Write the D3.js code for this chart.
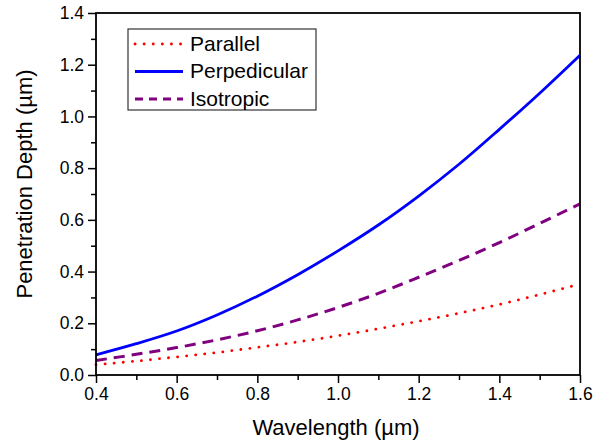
<!DOCTYPE html>
<html>
<head>
<meta charset="utf-8">
<script src="https://cdn.jsdelivr.net/npm/d3@7"></script>
<style>
  body { margin: 0; background: #fff; }
  text { font-family: "Liberation Sans", Arial, sans-serif; fill: #000; }
</style>
</head>
<body>
<div id="chart"></div>
<script>
// wavelength values (um)
const wavelength = [0.4, 0.5, 0.6, 0.7, 0.8, 0.9, 1.0, 1.1, 1.2, 1.3, 1.4, 1.5, 1.6];
// penetration depth (um)
const parallel = [0.040, 0.054, 0.070, 0.087, 0.107, 0.128, 0.152, 0.179, 0.208, 0.239, 0.273, 0.311, 0.352];
const perpendicular = [0.078, 0.121, 0.170, 0.232, 0.305, 0.388, 0.480, 0.580, 0.692, 0.815, 0.950, 1.090, 1.237];
const isotropic = [0.056, 0.080, 0.106, 0.136, 0.171, 0.213, 0.261, 0.316, 0.378, 0.443, 0.512, 0.586, 0.662];

const xTicks = [0.4, 0.6, 0.8, 1.0, 1.2, 1.4, 1.6];
const yTicks = [0.0, 0.2, 0.4, 0.6, 0.8, 1.0, 1.2, 1.4];
const seriesNames = ["Parallel", "Perpedicular", "Isotropic"];

const W = 611, H = 447;
const margin = { top: 13, right: 31, bottom: 72, left: 96 };
const width = W - margin.left - margin.right,
      height = H - margin.top - margin.bottom;

const svg = d3.select("#chart").append("svg")
    .attr("width", W)
    .attr("height", H);

const g = svg.append("g")
    .attr("transform", "translate(" + margin.left + "," + margin.top + ")");

const x = d3.scaleLinear().domain([0.4, 1.6]).range([0, width]);
const y = d3.scaleLinear().domain([0, 1.4]).range([height, 0]);

// minor ticks
const xMinor = d3.range(0.5, 1.6, 0.2);
const yMinor = d3.range(0.1, 1.4, 0.2);

g.append("g")
    .attr("transform", "translate(0," + height + ")")
    .call(d3.axisBottom(x).tickValues(xMinor).tickSize(5).tickFormat(""))
    .call(a => a.select(".domain").remove())
    .selectAll("line").attr("stroke", "#000").attr("stroke-width", 1.5);

g.append("g")
    .call(d3.axisLeft(y).tickValues(yMinor).tickSize(5).tickFormat(""))
    .call(a => a.select(".domain").remove())
    .selectAll("line").attr("stroke", "#000").attr("stroke-width", 1.5);

// major axes
const xAxis = g.append("g")
    .attr("transform", "translate(0," + height + ")")
    .call(d3.axisBottom(x).tickValues(xTicks).tickSize(8).tickPadding(5).tickFormat(d3.format(".1f")));
xAxis.select(".domain").remove();
xAxis.selectAll("line").attr("stroke", "#000").attr("stroke-width", 1.5);
xAxis.selectAll("text")
    .attr("font-size", "17.5px")
    .attr("font-family", "Liberation Sans, Arial, sans-serif")
    .attr("fill", "#000");

const yAxis = g.append("g")
    .call(d3.axisLeft(y).tickValues(yTicks).tickSize(8).tickPadding(4).tickFormat(d3.format(".1f")));
yAxis.select(".domain").remove();
yAxis.selectAll("line").attr("stroke", "#000").attr("stroke-width", 1.5);
yAxis.selectAll("text")
    .attr("font-size", "17.5px")
    .attr("font-family", "Liberation Sans, Arial, sans-serif")
    .attr("fill", "#000");

// lines
const series = [
    { name: seriesNames[0], values: parallel, color: "#ff0000", width: 2.8, dash: "0.1,9", cap: "round" },
    { name: seriesNames[1], values: perpendicular, color: "#0000ff", width: 2.8, dash: null, cap: "butt" },
    { name: seriesNames[2], values: isotropic, color: "#800080", width: 3, dash: "11,7", cap: "butt" }
];

const line = d3.line()
    .x(function(d) { return x(d[0]); })
    .y(function(d) { return y(d[1]); })
    .curve(d3.curveCatmullRom);

series.forEach(function(s) {
    g.append("path")
        .datum(wavelength.map(function(w, i) { return [w, s.values[i]]; }))
        .attr("fill", "none")
        .attr("stroke", s.color)
        .attr("stroke-width", s.width)
        .attr("stroke-dasharray", s.dash)
        .attr("stroke-linecap", s.cap)
        .attr("d", line);
});

// frame
g.append("rect")
    .attr("width", width)
    .attr("height", height)
    .attr("fill", "none")
    .attr("stroke", "#000")
    .attr("stroke-width", 1.8);

// legend
const legend = svg.append("g").attr("transform", "translate(128,29)");
legend.append("rect")
    .attr("width", 188)
    .attr("height", 81)
    .attr("fill", "#fff")
    .attr("stroke", "#333")
    .attr("stroke-width", 1.2);

series.forEach(function(s, i) {
    let ly = 15 + i * 27.5;
    legend.append("line")
        .attr("x1", 7).attr("x2", 55)
        .attr("y1", ly).attr("y2", ly)
        .attr("stroke", s.color)
        .attr("stroke-width", s.width)
        .attr("stroke-dasharray", s.name === "Isotropic" ? "8,6" : s.dash)
        .attr("stroke-linecap", s.cap);
    legend.append("text")
        .attr("x", 62)
        .attr("y", ly + 6.5)
        .attr("font-size", "21px")
        .text(s.name);
});

// axis titles
svg.append("text")
    .attr("x", margin.left + width / 2 - 2)
    .attr("y", 435)
    .attr("text-anchor", "middle")
    .attr("font-size", "22px")
    .text("Wavelength (µm)");

svg.append("text")
    .attr("transform", "translate(32," + 184 + ") rotate(-90)")
    .attr("text-anchor", "middle")
    .attr("font-size", "22px")
    .text("Penetration Depth (µm)");
</script>
</body>
</html>
